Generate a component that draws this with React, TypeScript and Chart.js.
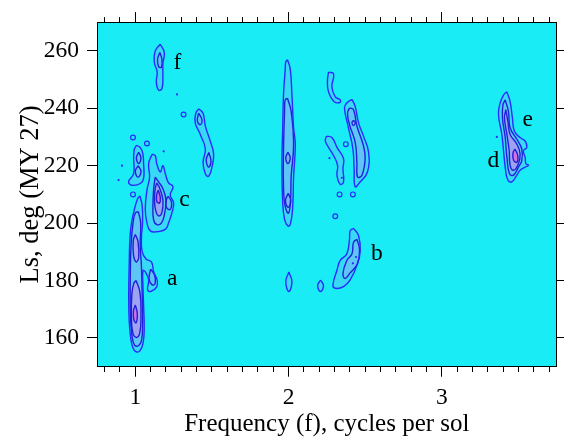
import React, { useEffect, useRef } from 'react';
import { Chart, registerables } from 'chart.js';
Chart.register(...registerables);

type P = [number, number];

// ---- Axis ticks ----
const X_MAJOR = [1, 2, 3];
const X_TICKS = [0.8, 0.9, 1, 1.1, 1.2, 1.3, 1.4, 1.5, 1.6, 1.7, 1.8, 1.9, 2, 2.1, 2.2, 2.3, 2.4, 2.5, 2.6, 2.7, 2.8, 2.9, 3, 3.1, 3.2, 3.3, 3.4, 3.5, 3.6, 3.7];
const Y_TICKS = [160, 180, 200, 220, 240, 260];

// ---- Contours: [frequency (cycles/sol), Ls (deg)] ----
const COL1_L1: P[] = [[1.03,209.5],[1.045,206],[1.047,200],[1.04,195],[1.045,190],[1.07,187.5],[1.105,186.5],[1.12,183],[1.142,180.2],[1.14,177.8],[1.1,176.2],[1.08,176.8],[1.087,180.2],[1.065,183],[1.05,183.5],[1.05,178],[1.055,170],[1.058,163],[1.05,158],[1.03,155.5],[1.005,155.2],[0.985,156.5],[0.97,160],[0.96,166],[0.957,175],[0.96,185],[0.965,195],[0.975,200],[0.995,205],[1.015,208.5]];
const COL1_L2: P[] = [[1.02,204],[1.035,200],[1.032,192],[1.04,185],[1.045,175],[1.048,165],[1.04,159],[1.02,157.3],[0.995,157.5],[0.978,161],[0.968,168],[0.967,180],[0.972,192],[0.985,200],[1.0,203.5]];
const COL1_L3A: P[] = [[1.005,180],[1.03,176],[1.037,168],[1.03,162],[1.01,160.2],[0.985,161.5],[0.975,167],[0.977,175],[0.99,179]];
const COL1_L3B: P[] = [[1.0,196],[1.018,193.5],[1.022,188],[1.005,186.5],[0.988,189],[0.987,194]];
const COL1_L4: P[] = [[1.0,171.5],[1.013,168.5],[1.005,165.3],[0.99,166.5],[0.988,169.5]];
const A_L2: P[] = [[1.1,184],[1.125,182],[1.13,179],[1.11,178.5],[1.09,180.5]];

const C_L1: P[] = [[1.109,224],[1.13,223.5],[1.14,220.7],[1.163,217.8],[1.18,220],[1.196,217.2],[1.217,214],[1.246,212.7],[1.228,209.8],[1.25,207],[1.239,203.6],[1.217,200],[1.196,197.8],[1.14,197],[1.098,197.3],[1.076,200.1],[1.065,204.7],[1.076,211.5],[1.093,216],[1.087,220.7]];
const C_L2: P[] = [[1.13,216],[1.15,214.5],[1.18,212],[1.2,208],[1.19,203],[1.17,200],[1.14,199.5],[1.12,201],[1.115,206],[1.12,212]];
const C_L3: P[] = [[1.14,214],[1.16,212],[1.18,208],[1.175,204],[1.155,202.5],[1.135,204],[1.125,208],[1.13,212]];
const C_L4: P[] = [[1.15,211.5],[1.163,209],[1.158,207],[1.14,207.5],[1.14,210]];
const C_SIDE: P[] = [[1.215,209.3],[1.235,207.5],[1.235,205.5],[1.22,204.7],[1.2,206],[1.205,208.5]];

const LB_L1: P[] = [[0.993,225.8],[1.011,227],[1.044,225.2],[1.054,220.7],[1.054,215.5],[1.033,213.8],[0.978,213.2],[0.956,214.4],[0.989,217.2],[0.989,223]];
const LB_I1: P[] = [[1.022,224.7],[1.037,222.7],[1.022,220.7],[1.007,222.7]];
const LB_I2: P[] = [[1.018,220],[1.037,218],[1.018,216],[1.0,218]];

const F_L1: P[] = [[1.163,262.3],[1.189,259.4],[1.18,255.5],[1.18,251.5],[1.174,246.9],[1.152,246.3],[1.137,249.2],[1.143,252.6],[1.124,256],[1.13,260]];
const F_L2: P[] = [[1.16,259.4],[1.174,257],[1.17,254.3],[1.152,254.5],[1.145,257]];

const G_L1: P[] = [[1.413,239.8],[1.442,238.3],[1.457,233.8],[1.489,228.6],[1.511,224.1],[1.5,219.5],[1.478,216.3],[1.457,217.2],[1.442,221.2],[1.457,225.8],[1.424,230.9],[1.391,234.9],[1.395,238.3]];
const G_I1: P[] = [[1.413,238.3],[1.435,236],[1.425,234.3],[1.405,235.5]];
const G_I2: P[] = [[1.48,224.6],[1.494,221.5],[1.478,219.5],[1.463,222]];

const COL2_L1: P[] = [[1.993,256.9],[2.011,253.7],[2.022,244.6],[2.033,233.2],[2.044,227.5],[2.033,216.1],[2.026,204.7],[2.011,199.5],[1.996,199],[1.974,201.3],[1.961,208.1],[1.957,221.8],[1.962,233.2],[1.967,244.6],[1.978,253.2],[1.982,256.2]];
const COL2_L2: P[] = [[1.993,243.5],[2.017,238.9],[2.033,227.5],[2.017,216.1],[2.013,208.1],[2.0,203.5],[1.978,205.8],[1.967,212.7],[1.967,225.2],[1.974,238.9],[1.978,242.9]];
const COL2_I1: P[] = [[1.996,224.7],[2.011,222.7],[1.996,220.7],[1.982,222.7]];
const COL2_I2: P[] = [[1.998,210.4],[2.015,207.8],[1.998,205.5],[1.98,207.8]];
const OV1: P[] = [[2.002,183],[2.022,179.6],[2.002,176.2],[1.982,179.6]];
const OV2: P[] = [[2.209,180.2],[2.228,178.2],[2.209,176.2],[2.19,178.2]];

const T_L1: P[] = [[2.261,252.6],[2.294,252],[2.283,247.4],[2.305,244],[2.337,242.9],[2.335,242],[2.298,242.3],[2.261,245.7],[2.254,249.7]];
const M_L1: P[] = [[2.414,243.1],[2.435,240.6],[2.457,234.9],[2.489,230.3],[2.522,224.7],[2.515,217.8],[2.468,214.4],[2.435,212.7],[2.428,218.9],[2.42,225.8],[2.391,233.2],[2.365,240.1],[2.38,241.8]];
const M_L2: P[] = [[2.398,240.1],[2.424,239.5],[2.446,233.8],[2.489,226.9],[2.5,222.4],[2.479,216.7],[2.45,216.1],[2.446,221.2],[2.435,228.1],[2.398,234.3],[2.385,238.3]];
const M_I1: P[] = [[2.424,235.8],[2.435,235],[2.424,234],[2.414,235]];
const LBL_L1: P[] = [[2.248,230.3],[2.283,229.8],[2.316,226.4],[2.359,222.4],[2.355,218.9],[2.359,214.4],[2.337,213.5],[2.316,216.7],[2.32,220.1],[2.294,223.5],[2.261,226.4],[2.24,228.6]];
const B_L1: P[] = [[2.424,198.2],[2.457,195.6],[2.468,190.4],[2.45,185.9],[2.402,180.2],[2.359,177.9],[2.305,177.3],[2.29,178.5],[2.316,183.6],[2.337,187],[2.38,189.3],[2.398,194.4],[2.402,197.3]];
const B_L2: P[] = [[2.446,194.4],[2.463,191],[2.45,185.9],[2.398,182.4],[2.37,180.7],[2.355,182.4],[2.38,187],[2.414,189.3],[2.424,193.3]];

const DE_L1: P[] = [[3.425,245.7],[3.446,242.3],[3.461,236.6],[3.474,232],[3.511,229.8],[3.544,228.6],[3.555,226.4],[3.533,225.2],[3.544,222.9],[3.549,220.7],[3.566,220.1],[3.544,219.5],[3.511,218.4],[3.49,216.7],[3.457,214.4],[3.431,215],[3.414,219.5],[3.403,225.2],[3.392,230.9],[3.37,237.8],[3.381,241.8],[3.403,244.6]];
const DE_L2: P[] = [[3.414,242.9],[3.435,238.9],[3.446,233.2],[3.49,229.2],[3.522,225.8],[3.522,221.8],[3.5,219.5],[3.468,216.7],[3.442,217.2],[3.425,222.9],[3.414,229.8],[3.396,236.6],[3.399,241.2]];
const DE_L3: P[] = [[3.418,239.5],[3.431,235.5],[3.446,230.9],[3.49,227.5],[3.511,224.1],[3.5,220.7],[3.468,218.4],[3.446,220.1],[3.44,225.2],[3.425,230.9],[3.409,236.6]];
const DE_L4: P[] = [[3.478,225.8],[3.496,223.5],[3.49,221.2],[3.468,222],[3.465,224.5]];

// small closed rings and isolated dots
const RINGS: P[] = [[0.985,229.8],[1.076,227.7],[0.985,210],[1.315,237.8],[2.374,227.5],[2.333,210],[2.42,210],[2.305,202.4]];
const DOTS: P[] = [[0.913,220],[1.185,225],[0.891,215],[1.272,244.8],[2.267,222.6],[2.348,215.8],[3.359,230],[2.44,188.2],[2.42,186]];

// feature labels
const LABEL_TEXT = ['a', 'b', 'c', 'd', 'e', 'f'];
const LABEL_F = [1.241, 2.577, 1.32, 3.337, 3.561, 1.274];
const LABEL_LS = [180.7, 189.3, 208, 221.8, 236, 255.9];

const CONTOURS: { pts: P[]; level: number }[] = [
  { pts: COL1_L1, level: 1 }, { pts: COL1_L2, level: 2 }, { pts: COL1_L3A, level: 3 }, { pts: COL1_L3B, level: 3 }, { pts: COL1_L4, level: 4 }, { pts: A_L2, level: 2 },
  { pts: C_L1, level: 1 }, { pts: C_L2, level: 2 }, { pts: C_L3, level: 3 }, { pts: C_L4, level: 4 }, { pts: C_SIDE, level: 2 },
  { pts: LB_L1, level: 1 }, { pts: LB_I1, level: 2 }, { pts: LB_I2, level: 2 },
  { pts: F_L1, level: 1 }, { pts: F_L2, level: 2 },
  { pts: G_L1, level: 1 }, { pts: G_I1, level: 2 }, { pts: G_I2, level: 2 },
  { pts: COL2_L1, level: 1 }, { pts: COL2_L2, level: 2 }, { pts: COL2_I1, level: 2 }, { pts: COL2_I2, level: 2 }, { pts: OV1, level: 1 }, { pts: OV2, level: 1 },
  { pts: T_L1, level: 1 }, { pts: M_L1, level: 1 }, { pts: M_L2, level: 2 }, { pts: M_I1, level: 2 }, { pts: LBL_L1, level: 1 },
  { pts: B_L1, level: 1 }, { pts: B_L2, level: 2 },
  { pts: DE_L1, level: 1 }, { pts: DE_L2, level: 2 }, { pts: DE_L3, level: 3 }, { pts: DE_L4, level: 4 },
];

const FILLS = ['', 'rgba(165,150,250,0.22)', 'rgba(185,150,245,0.3)', 'rgba(232,125,235,0.45)', 'rgba(242,80,222,0.6)'];
const LINE_OUTER = '#2a2aff';
const LINE_INNER = '#2020d8';
const BG = 'rgb(26,236,246)';
const FONT = { family: '"Liberation Serif", "Times New Roman", serif', size: 23.5 };
const X_TITLE_FONT = { family: FONT.family, size: 25 };
const Y_TITLE_FONT = { family: FONT.family, size: 26.5 };

const bgPlugin = {
  id: 'bgFill',
  beforeDraw(chart: any) {
    const { ctx, chartArea: a } = chart;
    ctx.save();
    ctx.fillStyle = BG;
    ctx.fillRect(a.left, a.top, a.right - a.left, a.bottom - a.top);
    ctx.restore();
  },
};

const fillPlugin = {
  id: 'contourFill',
  beforeDatasetsDraw(chart: any) {
    const { ctx, chartArea } = chart;
    ctx.save();
    ctx.beginPath();
    ctx.rect(chartArea.left, chartArea.top, chartArea.right - chartArea.left, chartArea.bottom - chartArea.top);
    ctx.clip();
    chart.data.datasets.forEach((ds: any, i: number) => {
      if (!ds.contourFill) return;
      const line = chart.getDatasetMeta(i).dataset;
      if (!line) return;
      line.updateControlPoints(chartArea, 'x');
      ctx.beginPath();
      line.path(ctx);
      ctx.closePath();
      ctx.fillStyle = ds.contourFill;
      ctx.fill();
    });
    ctx.restore();
  },
};

const labelPlugin = {
  id: 'featureLabels',
  afterDatasetsDraw(chart: any) {
    const { ctx, scales } = chart;
    ctx.save();
    ctx.fillStyle = '#000';
    ctx.font = `${FONT.size}px ${FONT.family}`;
    ctx.textAlign = 'center';
    ctx.textBaseline = 'middle';
    LABEL_TEXT.forEach((t, i) => {
      ctx.fillText(t, scales.x.getPixelForValue(LABEL_F[i]), scales.y.getPixelForValue(LABEL_LS[i]));
    });
    ctx.restore();
  },
};

export default function App() {
  const ref = useRef<HTMLCanvasElement>(null);
  useEffect(() => {
    if (!ref.current) return;
    const toXY = (pts: P[]) => [...pts, pts[0]].map(([x, y]) => ({ x, y }));
    const datasets: any[] = CONTOURS.map((c) => ({
      data: toXY(c.pts),
      showLine: true,
      tension: 0.45,
      borderColor: c.level === 1 ? LINE_OUTER : LINE_INNER,
      borderWidth: 1.4,
      pointRadius: 0,
      contourFill: FILLS[c.level],
      fill: false,
    }));
    datasets.push({
      data: RINGS.map(([x, y]) => ({ x, y })),
      showLine: false,
      pointRadius: 2.4,
      pointBorderWidth: 1.2,
      pointBackgroundColor: 'rgba(0,0,0,0)',
      pointBorderColor: LINE_OUTER,
    });
    datasets.push({
      data: DOTS.map(([x, y]) => ({ x, y })),
      showLine: false,
      pointRadius: 1.1,
      pointBorderWidth: 0,
      pointBackgroundColor: LINE_OUTER,
    });
    const majorTick = (v: number) => X_MAJOR.includes(v);
    const xTickBuild = (s: any) => { s.ticks = X_TICKS.map((v) => ({ value: v })); };
    const yTickBuild = (s: any) => { s.ticks = Y_TICKS.map((v) => ({ value: v })); };
    const chart = new Chart(ref.current, {
      type: 'scatter',
      data: { datasets },
      plugins: [bgPlugin, fillPlugin, labelPlugin],
      options: {
        animation: false,
        responsive: false,
        events: [],
        layout: { padding: 0 },
        plugins: { legend: { display: false }, tooltip: { enabled: false } },
        scales: {
          x: {
            type: 'linear', position: 'bottom', min: 0.75, max: 3.75,
            afterBuildTicks: xTickBuild,
            afterFit: (s: any) => { s.height = 72.3; },
            ticks: { font: FONT, color: '#000', padding: 7, maxRotation: 0, autoSkip: false,
              callback: (v: any) => (majorTick(Number(v)) ? String(v) : '') },
            grid: { drawOnChartArea: false, tickLength: 10, tickColor: '#000', tickWidth: 1,
              tickBorderDash: (c: any) => (c.tick && majorTick(c.tick.value) ? [] : [5, 100]) },
            border: { display: true, color: '#000', width: 1 },
            title: { display: true, text: 'Frequency (f), cycles per sol', font: X_TITLE_FONT, color: '#000', padding: { top: 0, bottom: 0 } },
          },
          x2: {
            type: 'linear', position: 'top', min: 0.75, max: 3.75,
            afterBuildTicks: xTickBuild,
            afterFit: (s: any) => { s.height = 15; },
            ticks: { display: false },
            grid: { drawOnChartArea: false, tickLength: 10, tickColor: '#000', tickWidth: 1,
              tickBorderDash: (c: any) => (c.tick && majorTick(c.tick.value) ? [] : [0, 5, 5, 100]) },
            border: { display: true, color: '#000', width: 1 },
          },
          y: {
            type: 'linear', position: 'left', min: 150, max: 270,
            afterBuildTicks: yTickBuild,
            afterFit: (s: any) => { s.width = 97; },
            ticks: { font: FONT, color: '#000', padding: 8 },
            grid: { drawOnChartArea: false, tickLength: 10, tickColor: '#000', tickWidth: 1 },
            border: { display: true, color: '#000', width: 1 },
            title: { display: true, text: 'Ls, deg (MY 27)', font: Y_TITLE_FONT, color: '#000', padding: { top: 15, bottom: 0 } },
          },
          y2: {
            type: 'linear', position: 'right', min: 150, max: 270,
            afterBuildTicks: yTickBuild,
            afterFit: (s: any) => { s.width = 7.3; },
            ticks: { display: false },
            grid: { drawOnChartArea: false, tickLength: 10, tickColor: '#000', tickWidth: 1 },
            border: { display: true, color: '#000', width: 1 },
          },
        },
      } as any,
    });
    return () => chart.destroy();
  }, []);
  return (
    <div style={{ position: 'absolute', left: 0, top: 0, width: 564, height: 439 }}>
      <canvas ref={ref} width={564} height={439} style={{ display: 'block' }} />
    </div>
  );
}
